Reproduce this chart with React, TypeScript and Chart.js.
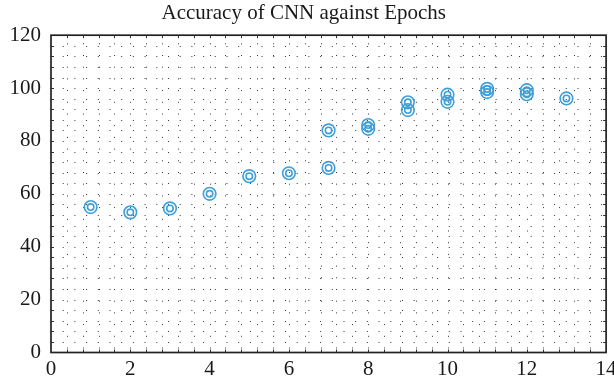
import React, { useEffect, useRef } from "react";
import { Chart, registerables } from "chart.js";

Chart.register(...registerables);

const titleText = "Accuracy of CNN against Epochs";
const epochs = [1, 2, 3, 4, 5, 6, 7, 7, 8, 8, 9, 9, 10, 10, 11, 11, 12, 12, 13];
const accuracy = [55, 53, 54.5, 60, 66.7, 67.8, 69.8, 84, 86, 84.6, 94.6, 91.7, 97.5, 94.8, 99.7, 98.5, 99.2, 97.7, 96.1];
const xTicks = [0, 2, 4, 6, 8, 10, 12, 14];
const yTicks = [0, 20, 40, 60, 80, 100, 120];
const xMinorStep = 0.4;
const yMinorStep = 4;

const markerColor = "#3f9fd8";
const fontFamily = "'Liberation Serif', 'DejaVu Serif', serif";

const gridPlugin = {
  id: "dotGrid",
  beforeDatasetsDraw(chart: any) {
    const { ctx, chartArea: a, scales } = chart;
    const x = scales.x;
    const y = scales.y;
    ctx.save();
    ctx.strokeStyle = "rgba(20,20,20,0.85)";
    ctx.lineWidth = 1;
    ctx.setLineDash([1, 10.7]);
    const yMax = yTicks[yTicks.length - 1];
    const xMax = xTicks[xTicks.length - 1];
    for (let k = 1; k * yMinorStep < yMax - 1e-9; k++) {
      const py = Math.round(y.getPixelForValue(k * yMinorStep)) + 0.5;
      ctx.beginPath();
      ctx.moveTo(a.left + 11.7, py);
      ctx.lineTo(a.right - 3, py);
      ctx.stroke();
    }
    for (let k = 1; k * xMinorStep < xMax - 1e-9; k++) {
      const px = Math.round(x.getPixelForValue(k * xMinorStep)) + 0.5;
      ctx.beginPath();
      ctx.moveTo(px, a.bottom - 4);
      ctx.lineTo(px, a.top + 3);
      ctx.stroke();
    }
    ctx.setLineDash([]);
    ctx.strokeStyle = "#333";
    ctx.lineWidth = 1;
    for (let k = 1; k * xMinorStep < xMax - 1e-9; k++) {
      const px = Math.round(x.getPixelForValue(k * xMinorStep)) + 0.5;
      ctx.beginPath();
      ctx.moveTo(px, a.bottom);
      ctx.lineTo(px, a.bottom - 3);
      ctx.moveTo(px, a.top);
      ctx.lineTo(px, a.top + 3);
      ctx.stroke();
    }
    for (let k = 1; k * yMinorStep < yMax - 1e-9; k++) {
      const py = Math.round(y.getPixelForValue(k * yMinorStep)) + 0.5;
      ctx.beginPath();
      ctx.moveTo(a.left, py);
      ctx.lineTo(a.left + 3, py);
      ctx.moveTo(a.right, py);
      ctx.lineTo(a.right - 3, py);
      ctx.stroke();
    }
    ctx.strokeStyle = "#222";
    ctx.lineWidth = 1.7;
    ctx.strokeRect(a.left, a.top, a.right - a.left, a.bottom - a.top);
    ctx.restore();
  },
};

export default function App() {
  const ref = useRef<HTMLCanvasElement | null>(null);
  useEffect(() => {
    document.body.style.margin = "0";
    const points = epochs.map((e, i) => ({ x: e, y: accuracy[i] }));
    const chart = new Chart(ref.current as HTMLCanvasElement, {
      type: "scatter",
      data: {
        datasets: [
          {
            data: points,
            pointStyle: "circle",
            pointRadius: 6.3,
            pointHoverRadius: 6.3,
            backgroundColor: "rgba(0,0,0,0)",
            borderColor: markerColor,
            borderWidth: 1.6,
          },
          {
            data: points,
            pointStyle: "circle",
            pointRadius: 3.2,
            pointHoverRadius: 3.2,
            backgroundColor: "rgba(0,0,0,0)",
            borderColor: markerColor,
            borderWidth: 1.6,
          },
        ],
      },
      options: {
        responsive: false,
        animation: false,
        layout: { padding: { left: 0, right: 6.5, top: 0, bottom: 0 } },
        plugins: {
          legend: { display: false },
          tooltip: { enabled: false },
          title: {
            display: true,
            text: titleText,
            color: "#1a1a1a",
            font: { family: fontFamily, size: 21, weight: "normal", lineHeight: 1.2 },
            padding: { top: 1, bottom: 9 },
          },
        },
        scales: {
          x: {
            type: "linear",
            min: 0,
            max: 14,
            afterBuildTicks: (s: any) => {
              s.ticks = xTicks.map((v) => ({ value: v }));
            },
            afterFit: (s: any) => {
              s.height = 29.5;
              s.paddingLeft = 0;
              s.paddingRight = 0;
            },
            grid: { display: false, drawTicks: false },
            border: { display: false },
            ticks: {
              color: "#1a1a1a",
              padding: 4,
              maxRotation: 0,
              font: { family: fontFamily, size: 21 },
            },
          },
          y: {
            type: "linear",
            min: 0,
            max: 120,
            afterBuildTicks: (s: any) => {
              s.ticks = yTicks.map((v) => ({ value: v }));
            },
            afterFit: (s: any) => {
              s.width = 51;
              s.paddingTop = 0;
              s.paddingBottom = 0;
            },
            grid: { display: false, drawTicks: false },
            border: { display: false },
            ticks: {
              color: "#1a1a1a",
              padding: 10,
              font: { family: fontFamily, size: 21 },
            },
          },
        },
      },
      plugins: [gridPlugin],
    });
    return () => chart.destroy();
  }, []);
  return (
    <div style={{ position: "absolute", left: 0, top: 0, width: 614, height: 382, background: "#fff" }}>
      <canvas ref={ref} width={614} height={382} />
    </div>
  );
}
